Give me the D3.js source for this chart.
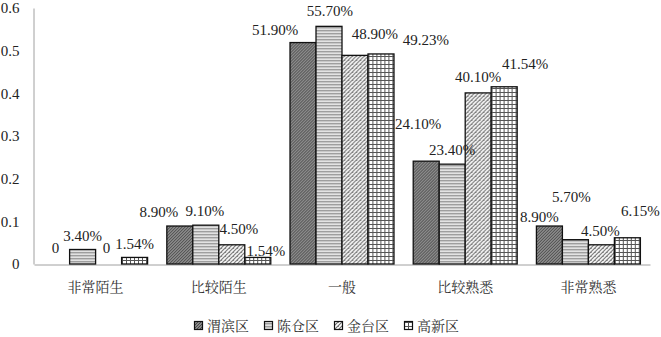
<!DOCTYPE html>
<html>
<head>
<meta charset="utf-8">
<script src="https://cdn.jsdelivr.net/npm/d3@7"></script>
<style>
  html, body { margin: 0; padding: 0; background: #fff; }
  svg { display: block; }
  .num { font-family: "Liberation Serif", "Times New Roman", serif; }
  .cjk { font-family: "Noto Serif CJK SC", "Noto Sans CJK SC", serif; }
</style>
</head>
<body>
<div id="chart"></div>
<script>
const categories = ['非常陌生', '比较陌生', '一般', '比较熟悉', '非常熟悉'];
const seriesNames = ['渭滨区', '陈仓区', '金台区', '高新区'];
const weibin = [0, 0.089, 0.519, 0.241, 0.089];
const chencang = [0.034, 0.091, 0.557, 0.234, 0.057];
const jintai = [0, 0.045, 0.489, 0.401, 0.045];
const gaoxin = [0.0154, 0.0154, 0.4923, 0.4154, 0.0615];
const yTicks = [0, 0.1, 0.2, 0.3, 0.4, 0.5, 0.6];

// hand-placed label nudges (px) like the original, per series / category
const labelNudge = [
  [[-1, -2], [-21, 0], [-28, 1], [-8, -23], [-10, 5]],
  [[0, 0], [-1, 0], [1, -2], [0, 0], [-4, -29]],
  [[-2, -2], [7, -2], [20, -8], [0, -2], [-1, 0]],
  [[0, 0], [8, 7], [45, 0], [21, -9], [13, -13]]
];

const seriesValues = [weibin, chencang, jintai, gaoxin];
const data = categories.map((c, ci) => ({
  cat: c,
  vals: seriesValues.map((s, si) => ({ key: seriesNames[si], si, ci, v: s[ci] }))
}));

const width = 661, height = 337;
const margin = { top: 8, right: 11, bottom: 73, left: 34 };

const svg = d3.select('#chart').append('svg')
  .attr('width', width).attr('height', height);

// patterns
const defs = svg.append('defs');
let p = defs.append('pattern').attr('id', 'pat0').attr('patternUnits', 'userSpaceOnUse')
  .attr('width', 3).attr('height', 3);
p.append('rect').attr('width', 3).attr('height', 3).attr('fill', '#8a8a8a');
p.append('path').attr('d', 'M-1,1 L1,-1 M0,3 L3,0 M2,4 L4,2').attr('stroke', '#4a4a4a').attr('stroke-width', 1);

p = defs.append('pattern').attr('id', 'pat1').attr('patternUnits', 'userSpaceOnUse')
  .attr('width', 4).attr('height', 3);
p.append('rect').attr('width', 4).attr('height', 3).attr('fill', '#e2e2e2');
p.append('rect').attr('width', 4).attr('height', 1.4).attr('fill', '#9e9e9e');

p = defs.append('pattern').attr('id', 'pat2').attr('patternUnits', 'userSpaceOnUse')
  .attr('width', 4).attr('height', 4);
p.append('rect').attr('width', 4).attr('height', 4).attr('fill', '#fff');
p.append('path').attr('d', 'M-1,1 L1,-1 M0,4 L4,0 M3,5 L5,3').attr('stroke', '#6a6a6a').attr('stroke-width', 1.1);
p.append('rect').attr('x', 0).attr('y', 0).attr('width', 1).attr('height', 1).attr('fill', '#888');

p = defs.append('pattern').attr('id', 'pat3').attr('patternUnits', 'userSpaceOnUse')
  .attr('width', 4).attr('height', 4);
p.append('rect').attr('width', 4).attr('height', 4).attr('fill', '#fff');
p.append('path').attr('d', 'M0.5,0 V4 M0,0.5 H4').attr('stroke', '#555').attr('stroke-width', 1);

const x0 = d3.scaleBand().domain(categories)
  .range([margin.left, width - margin.right]).paddingInner(0).paddingOuter(0);
const x1 = d3.scaleBand().domain(seriesNames)
  .range([0, x0.bandwidth()]).paddingInner(0).paddingOuter(0.37);
const y = d3.scaleLinear().domain([0, 0.6]).range([height - margin.bottom, margin.top]);

// axes
const yAxis = svg.append('g')
  .attr('transform', `translate(${margin.left - 0.5},0)`)
  .call(d3.axisLeft(y).tickValues(yTicks).tickSize(0).tickSizeOuter(0).tickPadding(14)
    .tickFormat(d => d === 0 ? '0' : d3.format('.1f')(d)));
yAxis.attr('font-family', null);
yAxis.select('.domain').attr('stroke', '#a0a0a0');
yAxis.selectAll('text').attr('class', 'num').style('font-size', '15px').attr('fill', '#222');

const xAxis = svg.append('g')
  .attr('transform', `translate(0,${height - margin.bottom + 0.5})`)
  .call(d3.axisBottom(x0).tickSize(0).tickSizeOuter(0).tickPadding(18));
xAxis.attr('font-family', null);
xAxis.select('.domain').attr('stroke', '#a0a0a0');
xAxis.selectAll('text').attr('class', 'cjk').style('font-size', '14px').attr('fill', '#333');

// bars
const groups = svg.append('g').selectAll('g').data(data).join('g')
  .attr('transform', d => `translate(${x0(d.cat)},0)`);

groups.selectAll('rect').data(d => d.vals.filter(v => v.v > 0)).join('rect')
  .attr('x', d => x1(d.key))
  .attr('y', d => y(d.v))
  .attr('width', x1.bandwidth())
  .attr('height', d => y(0) - y(d.v))
  .attr('fill', d => `url(#pat${d.si})`)
  .attr('stroke', '#111')
  .attr('stroke-width', 1.3);

groups.selectAll('text.lbl').data(d => d.vals).join('text')
  .attr('class', 'lbl num')
  .attr('x', d => x1(d.key) + x1.bandwidth() / 2 + labelNudge[d.si][d.ci][0])
  .attr('y', d => y(d.v) - 14 + labelNudge[d.si][d.ci][1])
  .attr('dy', '0.35em')
  .attr('text-anchor', 'middle')
  .style('font-size', '15px')
  .attr('fill', '#222')
  .text(d => d.v === 0 ? '0' : (d.v * 100).toFixed(2) + '%');

// legend
const legend = svg.append('g').attr('transform', 'translate(194,326)');
const items = legend.selectAll('g').data(seriesNames).join('g')
  .attr('transform', (d, i) => `translate(${i * 70},0)`);
items.append('rect')
  .attr('x', 0.5).attr('y', -4.5).attr('width', 8).attr('height', 8)
  .attr('fill', (d, i) => `url(#pat${i})`)
  .attr('stroke', '#111').attr('stroke-width', 1.2);
items.append('text')
  .attr('class', 'cjk')
  .attr('x', 13).attr('y', 0).attr('dy', '0.35em')
  .style('font-size', '14px').attr('fill', '#333')
  .text(d => d);
</script>
</body>
</html>
